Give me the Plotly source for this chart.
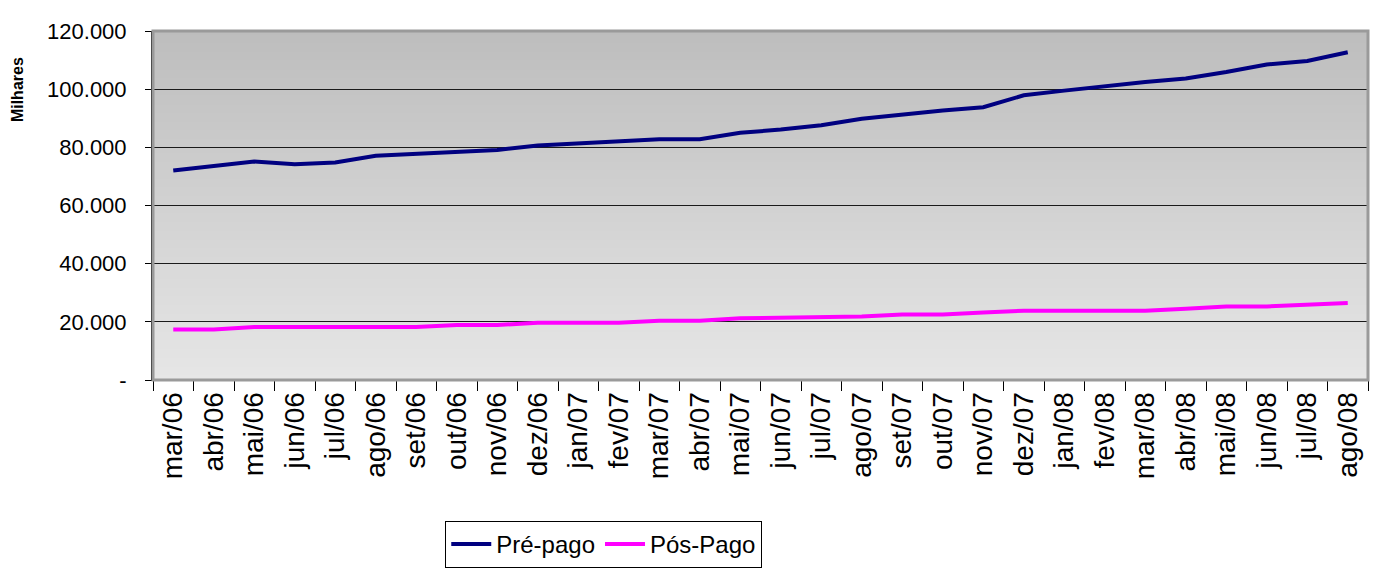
import plotly.graph_objects as go

# Monthly subscriber base (thousands)
meses = [
    "mar/06", "abr/06", "mai/06", "jun/06", "jul/06", "ago/06", "set/06", "out/06",
    "nov/06", "dez/06", "jan/07", "fev/07", "mar/07", "abr/07", "mai/07", "jun/07",
    "jul/07", "ago/07", "set/07", "out/07", "nov/07", "dez/07", "jan/08", "fev/08",
    "mar/08", "abr/08", "mai/08", "jun/08", "jul/08", "ago/08",
]
pre_pago = [
    72.0, 73.4, 75.1, 74.2, 74.8, 77.1, 77.7, 78.4, 79.1, 80.6,
    81.3, 81.8, 82.8, 82.8, 85.0, 86.1, 87.6, 89.8, 91.4, 92.7,
    93.8, 97.9, 99.5, 101.1, 102.5, 103.7, 105.9, 108.5, 109.7, 112.7,
]
pos_pago = [
    17.4, 17.4, 18.2, 18.2, 18.2, 18.2, 18.2, 18.9, 18.9, 19.7,
    19.7, 19.7, 20.4, 20.4, 21.2, 21.4, 21.7, 21.8, 22.5, 22.5,
    23.2, 23.8, 23.8, 23.8, 23.8, 24.5, 25.3, 25.3, 25.9, 26.5,
]
y_ticks = [0, 20, 40, 60, 80, 100, 120]
y_tick_text = ["-", "20.000", "40.000", "60.000", "80.000", "100.000", "120.000"]

FONT = "Liberation Sans, Arial, sans-serif"

fig = go.Figure()
fig.add_trace(go.Scatter(
    x=meses, y=pre_pago, mode="lines", name="Pré-pago",
    line=dict(color="#000080", width=4),
))
fig.add_trace(go.Scatter(
    x=meses, y=pos_pago, mode="lines", name="Pós-Pago",
    line=dict(color="#FF00FF", width=4),
))

# vertical grey gradient behind the plot area
shapes = []
n_bands = 80
top_c, bot_c = 189, 230
for k in range(n_bands):
    c = round(top_c + (bot_c - top_c) * k / (n_bands - 1))
    y1 = 1 - k / n_bands
    y0 = 1 - (k + 1) / n_bands
    shapes.append(dict(
        type="rect", xref="x domain", yref="y domain", layer="below",
        x0=0, x1=1, y0=y0 - 0.002, y1=y1 + 0.002,
        fillcolor=f"rgb({c},{c},{c})", line=dict(width=0),
    ))
# plot-area frame
shapes.append(dict(
    type="rect", xref="x domain", yref="y domain", layer="above",
    x0=0, x1=1, y0=0, y1=1, line=dict(color="#9a9a9a", width=3),
    fillcolor="rgba(0,0,0,0)",
))

fig.update_layout(
    width=1373, height=570,
    margin=dict(l=153, r=5, t=31, b=190, autoexpand=False),
    paper_bgcolor="white",
    plot_bgcolor="#d0d0d0",
    shapes=shapes,
    showlegend=True,
    legend=dict(
        orientation="h", x=0.371, xanchor="center",
        yref="container", y=1 - 521 / 570, yanchor="top",
        bgcolor="white", bordercolor="black", borderwidth=1,
        font=dict(family=FONT, size=24, color="black"),
        itemwidth=40, tracegroupgap=0,
    ),
    annotations=[dict(
        text="<b>Milhares</b>", xref="paper", yref="paper",
        x=-0.111, y=0.831, xanchor="center", yanchor="middle",
        textangle=-90, showarrow=False,
        font=dict(family=FONT, size=16, color="black"),
    )],
)

fig.update_xaxes(
    type="category", tickson="boundaries", ticks="outside", ticklen=10,
    tickcolor="black", tickwidth=1, tickangle=-90,
    tickfont=dict(family=FONT, size=28, color="black"),
    showgrid=False, showline=True, linecolor="black", linewidth=1,
    range=[-0.5, len(meses) - 0.5], zeroline=False, automargin=False,
)
fig.update_yaxes(
    range=[0, 120], tickvals=y_ticks, ticktext=y_tick_text,
    ticks="outside", ticklen=6, tickcolor="black", tickwidth=1,
    tickfont=dict(family=FONT, size=22, color="black"),
    ticklabelstandoff=14,
    showgrid=True, gridcolor="#1a1a1a", gridwidth=1,
    showline=True, linecolor="black", linewidth=2, zeroline=False,
    automargin=False,
)

fig.write_html("out.html")
